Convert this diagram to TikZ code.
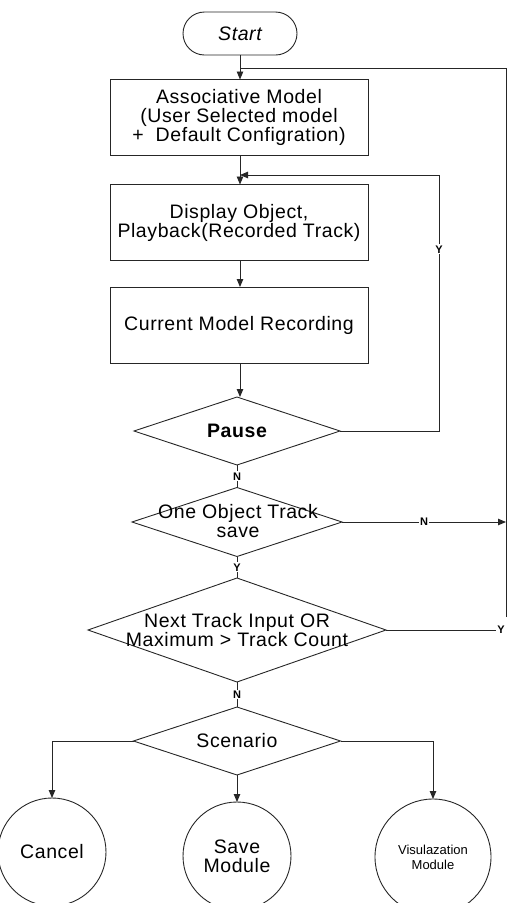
\documentclass[tikz,border=0pt]{standalone}
\usepackage{fontspec}
\setmainfont{Liberation Sans}
\usetikzlibrary{shapes.geometric,shapes.misc,arrows.meta}
\newcommand{\bigtxt}{\fontsize{19.5}{19}\selectfont\addfontfeatures{LetterSpace=3}}
\newcommand{\smalltxt}{\fontsize{13}{15}\selectfont}
\tikzset{
  ln/.style={draw=black!85, line width=0.9pt},
  arr/.style={ln, -{Triangle[length=8pt,width=6.5pt]}},
  box/.style={ln, rectangle, minimum width=258, minimum height=76, inner sep=0pt, outer sep=0pt, align=center, font=\bigtxt},
  dia/.style={ln, diamond, inner sep=0pt, outer sep=0pt},
  dtxt/.style={align=center, font=\bigtxt, inner sep=0pt},
  term/.style={ln, rounded rectangle, minimum width=114, minimum height=43, inner sep=0pt, outer sep=0pt, font=\bigtxt},
  endc/.style={ln, circle, minimum size=108, inner sep=0pt, outer sep=0pt, align=center, font=\bigtxt},
  lbl/.style={font=\fontsize{11}{12}\selectfont\bfseries, fill=white, inner sep=1pt},
}
\begin{document}
\begin{tikzpicture}[x=1pt,y=-1pt]
\useasboundingbox (0,0) rectangle (508,903);
\clip (0,0) rectangle (508,903);

\node[term] (start) at (240,33.5) {\itshape Start};
\node[box] (assoc) at (239,117.5) {Associative Model\\(User Selected model\\+\ \ Default Configration)};
\node[box] (disp) at (239,222.5) {Display Object,\\Playback(Recorded Track)};
\node[box] (rec) at (239,325) {Current Model Recording};

\node[dia, minimum width=206, minimum height=68] (pause) at (237,431) {};
\node[dtxt] (pauset) at (pause) {\bfseries Pause};
\node[dia, minimum width=210, minimum height=69] (oo) at (237,522) {};
\node[dtxt] (oot) at (238,521) {One Object Track\\save};
\node[dia, minimum width=298, minimum height=104] (nt) at (237,630) {};
\node[dtxt] (ntt) at (237,630) {Next Track Input OR\\Maximum {>} Track Count};
\node[dia, minimum width=207, minimum height=68] (sc) at (237,741) {};
\node[dtxt] (sct) at (sc) {Scenario};

\node[endc] (cancel) at (52,852) {Cancel};
\node[endc] (save) at (237,856) {Save\\Module};
\node[endc, minimum size=116, font=\smalltxt] (vis) at (433,857) {Visulazation\\Module};

% main flow
\draw[arr] (start.south) -- (start.south |- assoc.north);
\draw[arr] (assoc.south -| start.south) -- (disp.north -| start.south);
\draw[arr] (disp.south -| start.south) -- (rec.north -| start.south);
\draw[arr] (rec.south -| start.south) -- (pause.north -| start.south);

% pause loop (Y)
\coordinate (py) at (439,175);
\coordinate (pj) at (240,175);
\draw[arr] (pause.east) -- (pause.east -| py) -- node[lbl, pos=0.71] {Y} (py) -- (pj);

% pause -> one object (N)
\draw[ln] (pause.south) -- node[lbl] {N} (oo.north);
% one object -> next track (Y)
\draw[ln] (oo.south) -- node[lbl] {Y} (nt.north);
% next track -> scenario (N)
\draw[ln] (nt.south) -- node[lbl] {N} (sc.north);

% right loop
\coordinate (rt) at (506,68);
\coordinate (rb) at (506,617);
\coordinate (ry) at (496,630);
\draw[ln] (nt.east) -- (nt.east -| ry) node[font=\fontsize{11}{12}\selectfont\bfseries, anchor=west, inner sep=1pt] {Y};
\draw[ln] (rb) -- (rt) -- (rt -| start.south);
\draw[arr] (oo.east) -- node[lbl] {N} (oo.east -| rt);

% scenario branches
\draw[arr] (sc.west) -| (cancel.north);
\draw[arr] (sc.south) -- (save.north);
\draw[arr] (sc.east) -| (vis.north);
\end{tikzpicture}
\end{document}
